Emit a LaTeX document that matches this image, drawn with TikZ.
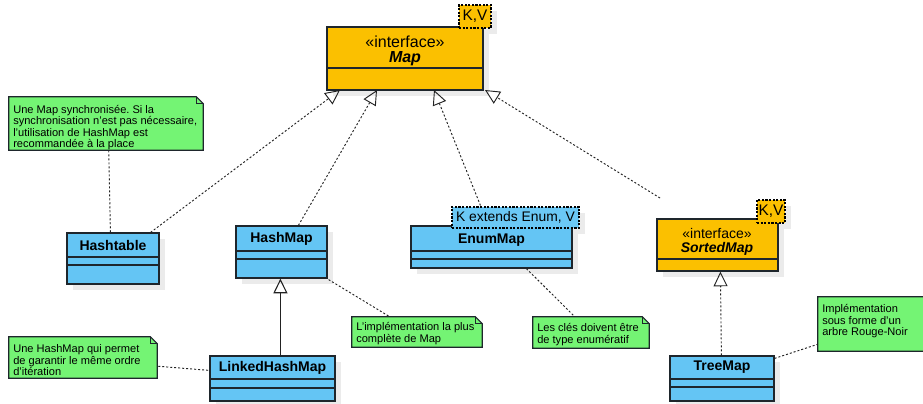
\documentclass[tikz,border=0pt]{standalone}
\usepackage{fontspec}
\setmainfont{Liberation Sans}
\frenchspacing
\usetikzlibrary{arrows.meta,calc,fit,shadows}
\definecolor{ifc}{HTML}{FBC000}
\definecolor{clsc}{HTML}{64C5F4}
\definecolor{tagb}{HTML}{6BC8F5}
\definecolor{notec}{HTML}{74F474}
\definecolor{bordc}{HTML}{1E262C}
\definecolor{shadc}{HTML}{EBEBEB}
\definecolor{linec}{HTML}{222222}
\tikzset{
  shad/.style={general shadow={fill=shadc, shadow xshift=4.5pt, shadow yshift=-4.5pt}},
  umlbox/.style={draw=bordc, line width=0.9pt, inner sep=0pt, shad},
  clsbox/.style={umlbox, fill=clsc},
  ifbox/.style={umlbox, fill=ifc},
  tagbox/.style={draw=black, line width=0.8pt, dash pattern=on 1.6pt off 1.1pt, inner sep=0pt},
  tagshadow/.style={fill=shadc},
  sepline/.style={draw=bordc, line width=0.9pt},
  clsname/.style={font=\fontsize{10.5}{12}\selectfont\bfseries, inner sep=0pt},
  ifname/.style={font=\fontsize{10.5}{12}\selectfont\bfseries\itshape, inner sep=0pt},
  stereo/.style={font=\fontsize{10.5}{12}\selectfont, inner sep=0pt},
  tagtext/.style={font=\fontsize{10.4}{12}\selectfont, inner sep=0pt},
  noteshape/.style={draw=bordc, line width=0.8pt, fill=notec, line join=miter},
  notefold/.style={draw=bordc, line width=0.8pt},
  notetext/.style={font=\fontsize{8.3}{8.6}\selectfont, align=left, inner sep=0pt, anchor=north west},
  realize/.style={draw=linec, line width=0.7pt, dash pattern=on 1.5pt off 1.5pt, -{Triangle[open, length=11pt, width=10.5pt]}},
  generalize/.style={draw=linec, line width=0.8pt, -{Triangle[open, length=11pt, width=10.5pt]}},
  notelink/.style={draw=linec, line width=0.7pt, dash pattern=on 1.5pt off 1.5pt},
}
\newcommand{\umlnotebox}[3]{%
  \node[fit={#2 #3}, inner sep=0pt] (#1) {};
  \draw[noteshape] (#1.north west) -- ($(#1.north east)+(-7,0)$) -- ($(#1.north east)+(0,7)$) -- (#1.south east) -- (#1.south west) -- cycle;
  \draw[notefold] ($(#1.north east)+(-7,0)$) -- ($(#1.north east)+(-7,7)$) -- ($(#1.north east)+(0,7)$);
}
\begin{document}
\begin{tikzpicture}[x=0.75pt,y=-0.75pt]
\useasboundingbox (0,0) rectangle (923,403);
\fill[white] (0,0) rectangle (923,403);
\clip (0,0) rectangle (923,403);

% ---------- tag shadows (behind everything) ----------
\fill[tagshadow] (465,11) rectangle (497,34);
\fill[tagshadow] (458,213) rectangle (585,234);
\fill[tagshadow] (763,206) rectangle (791,229);

% ---------- Map ----------
\node[ifbox, fit={(327,27) (483,90)}] (map) {};
\draw[sepline] (327,68) -- (483,68);
\node[tagbox, fill=ifc, fit={(459,5) (491,28)}] (maptag) {};
\node[tagtext, font=\fontsize{11.5}{13}\selectfont] (maptagt) at (maptag.center) {K,V};
\node[stereo, font=\fontsize{12}{14}\selectfont] (mapst) at (405,42) {«interface»};
\node[ifname, font=\fontsize{12}{14}\selectfont\bfseries\itshape] (mapname) at (405,59) {Map};

% ---------- Hashtable ----------
\node[clsbox, fit={(67,233) (159,284)}] (hashtable) {};
\draw[sepline] (67,257) -- (159,257) (67,265) -- (159,265);
\node[clsname] (hashtablen) at (113,245) {Hashtable};

% ---------- HashMap ----------
\node[clsbox, fit={(236,226) (327,278)}] (hashmap) {};
\draw[sepline] (236,251) -- (327,251) (236,259) -- (327,259);
\node[clsname] (hashmapn) at (281.5,238.5) {HashMap};

% ---------- EnumMap ----------
\node[clsbox, fit={(411,226) (572,268)}] (enummap) {};
\draw[sepline] (411,251) -- (572,251) (411,259) -- (572,259);
\node[tagbox, fill=tagb, fit={(452,207) (579,228)}] (enumtag) {};
\node[tagtext] (enumtagt) at (enumtag.center) {K extends Enum, V};
\node[clsname] (enummapn) at (491.5,240) {EnumMap};

% ---------- SortedMap ----------
\node[ifbox, fit={(657,219) (778,271)}] (sortedmap) {};
\draw[sepline] (657,259) -- (778,259);
\node[tagbox, fill=ifc, fit={(757,200) (785,223)}] (sortedtag) {};
\node[tagtext, font=\fontsize{11.5}{13}\selectfont] (sortedtagt) at (sortedtag.center) {K,V};
\node[stereo] (sortedst) at (717,233) {«interface»};
\node[ifname] (sortedn) at (717,249) {SortedMap};

% ---------- LinkedHashMap ----------
\node[clsbox, fit={(210,356) (335,401)}] (linked) {};
\draw[sepline] (210,379) -- (335,379) (210,388) -- (335,388);
\node[clsname] (linkedn) at (272.5,367.5) {LinkedHashMap};

% ---------- TreeMap ----------
\node[clsbox, fit={(670,356) (774,401)}] (treemap) {};
\draw[sepline] (670,379) -- (774,379) (670,387) -- (774,387);
\node[clsname] (treemapn) at (722,367.5) {TreeMap};

% ---------- Notes ----------
\umlnotebox{note1}{(9,97)}{(203,150)}
\node[notetext] (note1t) at (13,105) {Une Map synchronisée. Si la\\synchronisation n'est pas nécessaire,\\l'utilisation de HashMap est\\recommandée à la place};

\umlnotebox{note2}{(9,337)}{(157,378)}
\node[notetext] (note2t) at (13,344.5) {Une HashMap qui permet\\de garantir le même ordre\\d'itération};

\umlnotebox{note3}{(352,317)}{(482,347)}
\node[notetext] (note3t) at (356,322.5) {L'implémentation la plus\\complète de Map};

\umlnotebox{note4}{(533,317)}{(649,348)}
\node[notetext] (note4t) at (537,323.5) {Les clés doivent être\\de type enumératif};

\umlnotebox{note5}{(818,297)}{(935,351)}
\node[notetext] (note5t) at (822,304.5) {Implémentation\\sous forme d'un\\arbre Rouge-Noir};

% ---------- connector end points ----------
\coordinate (mapA) at (340,90);
\coordinate (mapB) at (377,90);
\coordinate (mapC) at (434,90);
\coordinate (mapD) at (485,90);
\coordinate (sortedEnd) at (660,198);

% ---------- Connectors ----------
\draw[realize] ($(hashtable.north east)+(-9,0)$) -- (mapA);
\draw[realize] ($(hashmap.north west)+(63,0)$) -- (mapB);
\draw[realize] ($(enumtag.north west)+(29,-1)$) -- (mapC);
\draw[realize] (sortedEnd) -- (mapD);
\draw[generalize] ($(linked.north west)+(71,0)$) -- ($(hashmap.south west)+(45,0)$);
\draw[realize] ($(treemap.north west)+(52,0)$) -- ($(sortedmap.south west)+(64,0)$);

\draw[notelink] ($(note1.south west)+(100,0)$) -- ($(hashtable.north west)+(44,0)$);
\draw[notelink] ($(note2.south east)+(1,-12)$) -- ($(linked.north west)+(0,15)$);
\draw[notelink] ($(hashmap.south east)+(1,1)$) -- ($(note3.north west)+(38,0)$);
\draw[notelink] ($(enummap.south west)+(116,0)$) -- ($(note4.north west)+(42,0)$);
\draw[notelink] ($(treemap.north east)+(0,3)$) -- ($(note5.south west)+(0,-7)$);
\end{tikzpicture}
\end{document}
